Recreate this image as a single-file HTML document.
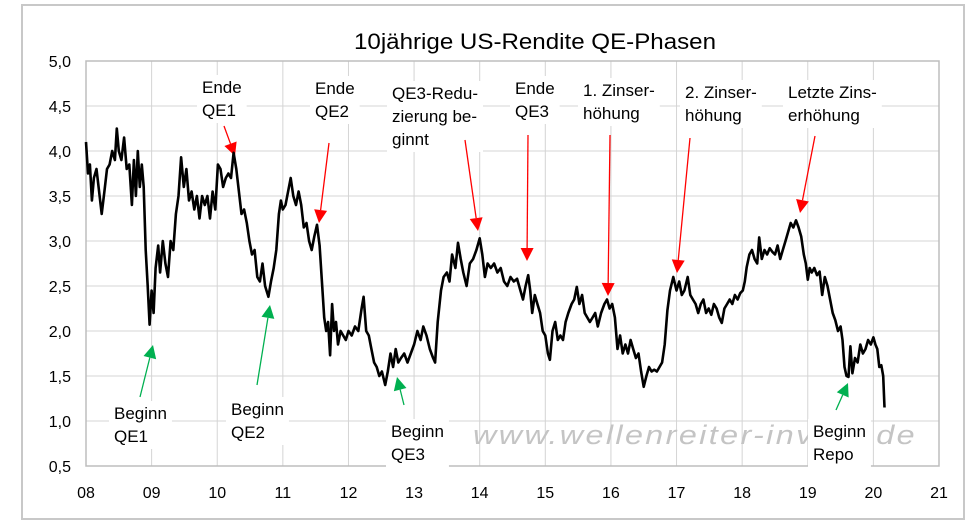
<!DOCTYPE html>
<html><head><meta charset="utf-8">
<style>
html,body{margin:0;padding:0;background:#fff;}
svg{display:block;font-family:"Liberation Sans",Arial,sans-serif;}
</style></head>
<body>
<svg id="chart" width="978" height="527" viewBox="0 0 978 527" xmlns="http://www.w3.org/2000/svg">
<rect x="22" y="5" width="942" height="514" fill="#fff" stroke="#c8c8c8" stroke-width="2"/>
<text x="535" y="49" font-size="22" text-anchor="middle" textLength="362" lengthAdjust="spacingAndGlyphs" fill="#000">10jährige US-Rendite QE-Phasen</text>
<g id="grid"></g>
<g id="axes"></g>
<text x="473" y="444" font-size="27" font-style="italic" fill="#c4c4c4" textLength="444" lengthAdjust="spacingAndGlyphs" letter-spacing="2">www.wellenreiter-invest.de</text>
<g id="notes"></g>
<g id="series"></g>
</svg>
<script>
const yTicks = [5.0,4.5,4.0,3.5,3.0,2.5,2.0,1.5,1.0,0.5];
const yTickLabels = ["5,0","4,5","4,0","3,5","3,0","2,5","2,0","1,5","1,0","0,5"];
const xTicks = [2008,2009,2010,2011,2012,2013,2014,2015,2016,2017,2018,2019,2020,2021];
const xTickLabels = ["08","09","10","11","12","13","14","15","16","17","18","19","20","21"];
const dates = [
2008.0,2008.03,2008.06,2008.09,2008.12,2008.16,2008.2,2008.24,2008.28,2008.32,2008.36,2008.4,2008.44,2008.47,2008.5,2008.54,2008.58,2008.62,2008.66,2008.7,2008.73,2008.76,2008.79,2008.82,2008.85,2008.88,2008.91,2008.94,2008.97,
2009.0,2009.03,2009.06,2009.1,2009.13,2009.17,2009.21,2009.25,2009.29,2009.33,2009.37,2009.41,2009.45,2009.49,2009.53,2009.57,2009.61,2009.65,2009.69,2009.73,2009.77,2009.81,2009.85,2009.89,2009.93,2009.97,
2010.01,2010.05,2010.09,2010.13,2010.17,2010.21,2010.25,2010.29,2010.33,2010.37,2010.41,2010.45,2010.49,2010.53,2010.57,2010.61,2010.65,2010.69,2010.73,2010.78,2010.82,2010.86,2010.9,2010.94,2010.97,
2011.0,2011.04,2011.08,2011.12,2011.16,2011.2,2011.24,2011.28,2011.32,2011.36,2011.4,2011.44,2011.48,2011.52,2011.56,2011.6,2011.63,2011.66,2011.69,2011.72,2011.75,2011.78,2011.81,2011.84,2011.88,2011.92,2011.96,
2012.0,2012.05,2012.1,2012.15,2012.2,2012.23,2012.27,2012.31,2012.35,2012.39,2012.43,2012.47,2012.51,2012.56,2012.6,2012.64,2012.68,2012.72,2012.76,2012.8,2012.85,2012.9,2012.95,
2013.0,2013.05,2013.1,2013.14,2013.19,2013.24,2013.29,2013.32,2013.36,2013.41,2013.45,2013.5,2013.54,2013.58,2013.63,2013.67,2013.71,2013.75,2013.8,2013.85,2013.9,2013.95,
2014.0,2014.04,2014.08,2014.12,2014.17,2014.22,2014.27,2014.32,2014.37,2014.42,2014.47,2014.52,2014.57,2014.62,2014.66,2014.7,2014.74,2014.77,2014.8,2014.84,2014.88,2014.92,2014.96,
2015.0,2015.04,2015.07,2015.11,2015.15,2015.19,2015.23,2015.27,2015.31,2015.35,2015.4,2015.44,2015.48,2015.52,2015.56,2015.6,2015.64,2015.68,2015.72,2015.76,2015.8,2015.85,2015.9,2015.94,2015.98,
2016.02,2016.06,2016.1,2016.14,2016.18,2016.22,2016.26,2016.3,2016.34,2016.38,2016.42,2016.46,2016.5,2016.54,2016.58,2016.62,2016.66,2016.7,2016.74,2016.78,2016.82,2016.86,2016.9,2016.95,
2017.0,2017.04,2017.08,2017.12,2017.17,2017.21,2017.25,2017.29,2017.33,2017.37,2017.41,2017.45,2017.49,2017.53,2017.57,2017.61,2017.65,2017.69,2017.73,2017.77,2017.81,2017.85,2017.89,2017.93,2017.97,
2018.01,2018.04,2018.07,2018.11,2018.15,2018.19,2018.23,2018.26,2018.3,2018.34,2018.38,2018.42,2018.46,2018.5,2018.54,2018.58,2018.62,2018.66,2018.7,2018.74,2018.78,2018.82,2018.86,2018.9,2018.94,2018.97,
2019.0,2019.03,2019.06,2019.1,2019.14,2019.18,2019.22,2019.26,2019.3,2019.34,2019.38,2019.42,2019.46,2019.5,2019.53,2019.56,2019.59,2019.62,2019.65,2019.68,2019.72,2019.76,2019.8,2019.84,2019.88,2019.92,2019.96,
2020.0,2020.03,2020.06,2020.09,2020.12,2020.15,2020.17];
const yields = [
4.1,3.75,3.85,3.45,3.7,3.8,3.55,3.3,3.55,3.8,3.85,4.0,3.9,4.25,4.0,3.9,4.15,3.8,3.85,3.4,3.9,3.5,4.0,3.6,3.85,3.6,2.9,2.5,2.07,
2.45,2.2,2.7,2.95,2.65,3.0,2.75,2.6,3.0,2.9,3.3,3.5,3.93,3.6,3.8,3.45,3.55,3.35,3.5,3.25,3.5,3.4,3.5,3.25,3.55,3.35,
3.85,3.8,3.6,3.7,3.75,3.7,3.98,3.8,3.55,3.3,3.35,3.2,3.0,2.85,2.9,2.6,2.55,2.75,2.5,2.38,2.55,2.7,2.9,3.3,3.45,
3.35,3.4,3.55,3.7,3.5,3.4,3.55,3.4,3.15,3.2,3.0,2.9,3.05,3.18,2.95,2.5,2.15,2.0,2.1,1.73,2.3,2.0,2.1,1.85,2.0,1.95,1.9,
2.0,1.95,2.05,2.0,2.25,2.38,2.0,1.95,1.8,1.65,1.6,1.5,1.55,1.4,1.55,1.75,1.6,1.8,1.65,1.7,1.75,1.65,1.75,
1.85,2.0,1.9,2.05,1.95,1.8,1.7,1.65,2.1,2.45,2.6,2.65,2.55,2.85,2.7,2.98,2.8,2.65,2.5,2.75,2.8,2.9,
3.03,2.85,2.6,2.75,2.7,2.75,2.65,2.7,2.55,2.5,2.6,2.55,2.58,2.45,2.35,2.5,2.62,2.45,2.2,2.4,2.3,2.2,2.0,
1.95,1.75,1.68,2.0,2.1,1.9,1.95,1.9,2.1,2.2,2.3,2.35,2.49,2.3,2.4,2.2,2.15,2.1,2.15,2.2,2.05,2.2,2.3,2.35,2.25,
2.3,2.15,1.8,1.95,1.75,1.85,1.75,1.9,1.8,1.7,1.75,1.55,1.38,1.5,1.6,1.55,1.57,1.55,1.6,1.65,1.85,2.23,2.45,2.6,
2.45,2.55,2.4,2.45,2.6,2.4,2.35,2.3,2.2,2.3,2.35,2.2,2.25,2.18,2.3,2.25,2.15,2.09,2.25,2.3,2.35,2.3,2.4,2.35,2.42,
2.45,2.55,2.71,2.85,2.9,2.8,2.75,3.04,2.8,2.9,2.85,2.92,2.88,2.85,2.95,2.8,2.9,3.0,3.1,3.2,3.15,3.23,3.15,3.05,2.85,2.75,
2.57,2.7,2.65,2.7,2.62,2.66,2.4,2.6,2.5,2.35,2.2,2.12,2.0,2.05,1.9,1.6,1.5,1.49,1.83,1.53,1.7,1.65,1.85,1.75,1.8,1.9,1.85,
1.93,1.85,1.8,1.6,1.62,1.5,1.15];

const X0=86, X1=939, Y0=61, Y1=466;
const xScale = v => X0 + (v-2008)/(2021-2008)*(X1-X0);
const yScale = v => Y0 + (5.0-v)/(5.0-0.5)*(Y1-Y0);
const NS="http://www.w3.org/2000/svg";
function mk(tag, attrs, parent){const e=document.createElementNS(NS,tag);for(const k in attrs)e.setAttribute(k,attrs[k]);parent.appendChild(e);return e;}

const grid=document.getElementById('grid'), axes=document.getElementById('axes');
yTicks.forEach((t,i)=>{
  const y=yScale(t);
  const gl=mk('line',{x1:X0,x2:X1,y1:y,y2:y,stroke:'#d4d4d4','stroke-width':1},grid);
  
  
  const tl=mk('text',{x:71,y:y+6,'font-size':16,'text-anchor':'end',fill:'#000'},axes);
  tl.textContent=yTickLabels[i];
  
  
});
xTicks.forEach((t,i)=>{
  const x=xScale(t);
  const gl=mk('line',{x1:x,x2:x,y1:Y0,y2:Y1,stroke:'#d4d4d4','stroke-width':1},grid);
  
  
  const tl=mk('text',{x:x,y:498,'font-size':16,'text-anchor':'middle',fill:'#000'},axes);
  tl.textContent=xTickLabels[i];
  
  
});
const pa=mk('rect',{x:X0,y:Y0,width:X1-X0,height:Y1-Y0,fill:'none',stroke:'#bdbdbd','stroke-width':1.5},axes);



const series=document.getElementById('series');
const n=Math.min(dates.length,yields.length);
let d='';
for(let i=0;i<n;i++){d+=(i?'L':'M')+xScale(dates[i]).toFixed(1)+' '+yScale(yields[i]).toFixed(1)+' ';}
const line=mk('path',{d:d,fill:'none',stroke:'#000','stroke-width':2.6,'stroke-linejoin':'round'},series);



const notes=document.getElementById('notes');
const labels=[
 {n:'ende-qe1',t:['Ende','QE1'],x:202,y:93,a:[224,126,235,156],c:'#ff0000'},
 {n:'ende-qe2',t:['Ende','QE2'],x:315,y:94,a:[329,143,319,223],c:'#ff0000'},
 {n:'qe3-reduzierung',t:['QE3-Redu-','zierung be-','ginnt'],x:392,y:99,a:[465,140,478,231],c:'#ff0000'},
 {n:'ende-qe3',t:['Ende','QE3'],x:515,y:94,a:[528,135,527,261],c:'#ff0000'},
 {n:'zinserhoehung-1',t:['1. Zinser-','höhung'],x:583,y:96,a:[610,135,608,296],c:'#ff0000'},
 {n:'zinserhoehung-2',t:['2. Zinser-','höhung'],x:685,y:98,a:[690,138,677,273],c:'#ff0000'},
 {n:'letzte-zinserhoehung',t:['Letzte Zins-','erhöhung'],x:788,y:98,a:[815,136,800,213],c:'#ff0000'},
 {n:'beginn-qe1',t:['Beginn','QE1'],x:114,y:419,a:[140,397,153,345],c:'#00b050'},
 {n:'beginn-qe2',t:['Beginn','QE2'],x:231,y:415,a:[257,385,270,305],c:'#00b050'},
 {n:'beginn-qe3',t:['Beginn','QE3'],x:391,y:437,a:[404,405,397,377],c:'#00b050'},
 {n:'beginn-repo',t:['Beginn','Repo'],x:813,y:437,a:[836,410,848,383],c:'#00b050'}
];
labels.forEach(L=>{
  const g=mk('g',{},notes);
  
  
  const box=mk('rect',{fill:'#fff'},g);
  const tg=mk('g',{},g);
  L.t.forEach((s,i)=>{
    const tx=mk('text',{x:L.x,y:L.y+i*23,'font-size':17,fill:'#000'},tg);
    tx.textContent=s;
  });
  const bb=tg.getBBox();
  box.setAttribute('x',bb.x-5);box.setAttribute('y',bb.y-3);
  box.setAttribute('width',bb.width+10);box.setAttribute('height',bb.height+6);
  const [x1,y1,x2,y2]=L.a;
  const dx=x2-x1, dy=y2-y1, len=Math.hypot(dx,dy), ux=dx/len, uy=dy/len;
  const hl=13, hw=6.5;
  const bx=x2-ux*hl, by=y2-uy*hl;
  mk('line',{x1:x1,y1:y1,x2:bx,y2:by,stroke:L.c,'stroke-width':1.3},g);
  mk('polygon',{points:`${x2},${y2} ${bx-uy*hw},${by+ux*hw} ${bx+uy*hw},${by-ux*hw}`,fill:L.c},g);
});
</script>
</body></html>
